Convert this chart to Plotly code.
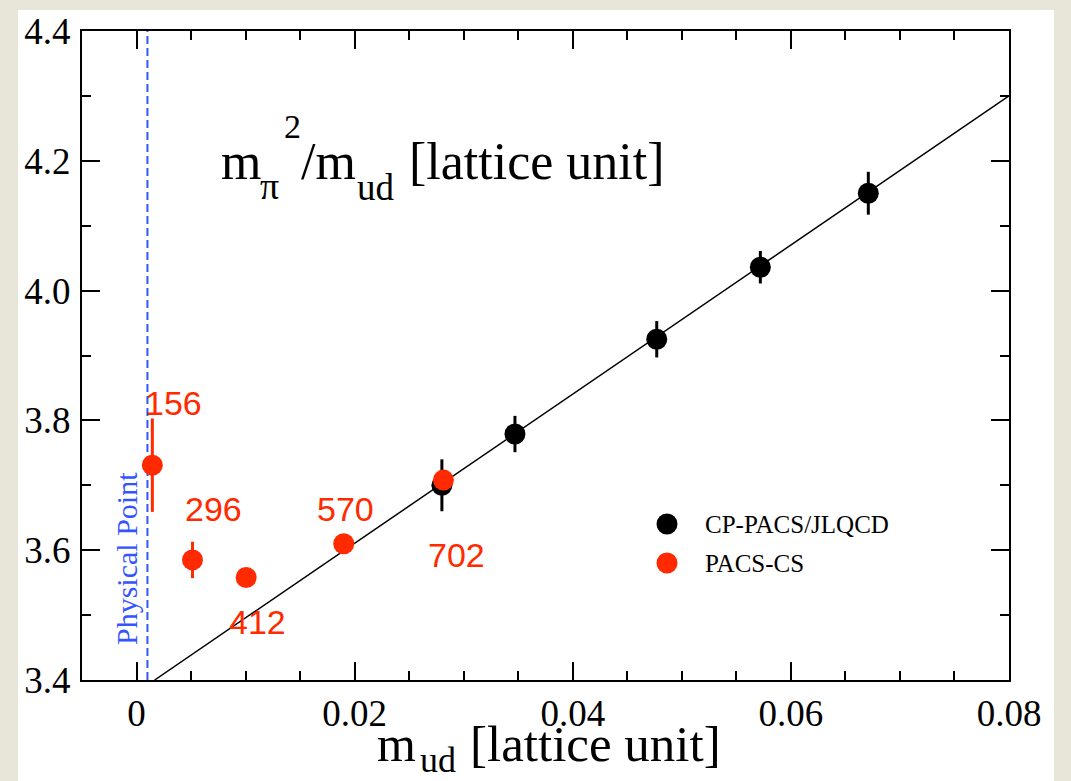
import plotly.graph_objects as go

# ---- data ----
cp_x = [0.0280, 0.0347, 0.0477, 0.0572, 0.0671]
cp_y = [3.700, 3.779, 3.925, 4.036, 4.150]
cp_err = [0.040, 0.028, 0.028, 0.025, 0.033]

pacs_x = [0.00145, 0.00513, 0.01005, 0.0190, 0.02814]
pacs_y = [3.731, 3.585, 3.558, 3.610, 3.708]
pacs_err = [0.072, 0.028, 0.010, 0.010, 0.010]
pacs_labels = ["156", "296", "412", "570", "702"]

fit_x = [0.00166, 0.08]
fit_y = [3.40, 4.30]

phys_x = [0.001, 0.001]
phys_y = [3.40, 4.40]

x_ticks = [0, 0.02, 0.04, 0.06, 0.08]
x_ticktext = ["0", "0.02", "0.04", "0.06", "0.08"]
y_ticks = [3.4, 3.6, 3.8, 4.0, 4.2, 4.4]
y_ticktext = ["3.4", "3.6", "3.8", "4.0", "4.2", "4.4"]

# label offsets in pixels (style, not data)
label_dx = [21, 21, 11, 2, 13]
label_dy = [62, 51, -45, 35, -75]

RED = "#ff2a00"
BLUE = "#3355ff"
SERIF = "Liberation Serif, Times New Roman, serif"
SANS = "Liberation Sans, Arial, sans-serif"

W, H = 1071, 781
L, R, T, B = 82, 62, 31, 101
PW, PH = W - L - R, H - T - B


def px(xp):
    return (xp - L) / PW


def py(yp):
    return (H - B - yp) / PH


annotations = []


def add_piece(x_left, baseline, text, size, color="black", family=SERIF):
    # centre of Liberation Serif text box lies 0.3375 em above the baseline
    annotations.append(dict(x=px(x_left), y=py(baseline - 0.3375 * size),
                            xref="paper", yref="paper", xanchor="left", yanchor="middle",
                            text=text, showarrow=False, borderpad=0,
                            font=dict(family=family, size=size, color=color)))


fig = go.Figure()

fig.add_trace(go.Scatter(x=phys_x, y=phys_y, mode="lines",
                         line=dict(color=BLUE, width=2, dash="8px,4px"),
                         hoverinfo="skip", showlegend=False))
fig.add_trace(go.Scatter(x=fit_x, y=fit_y, mode="lines",
                         line=dict(color="black", width=1.5),
                         hoverinfo="skip", showlegend=False))
fig.add_trace(go.Scatter(x=cp_x, y=cp_y, mode="markers", name="CP-PACS/JLQCD",
                         marker=dict(color="black", size=21),
                         error_y=dict(type="data", array=cp_err, color="black",
                                      thickness=3, width=0),
                         showlegend=False))
fig.add_trace(go.Scatter(x=pacs_x, y=pacs_y, mode="markers", name="PACS-CS",
                         marker=dict(color=RED, size=21),
                         error_y=dict(type="data", array=pacs_err, color=RED,
                                      thickness=3, width=0),
                         showlegend=False))

for xv, yv, t, dx, dy in zip(pacs_x, pacs_y, pacs_labels, label_dx, label_dy):
    annotations.append(dict(x=xv, y=yv, xref="x", yref="y", text=t, showarrow=False,
                            xshift=dx, yshift=dy, xanchor="center", yanchor="middle",
                            font=dict(family=SANS, size=34, color=RED)))

# title inside the plot:  m_pi^2 / m_ud [lattice unit]
add_piece(220, 179, "m", 52)
add_piece(259, 199, "π", 38)
add_piece(283, 138, "2", 34)
add_piece(300, 179, "/m", 52)
add_piece(356, 200, "ud", 37)
add_piece(408, 179, "[lattice unit]", 52)

# x-axis title:  m_ud [lattice unit]
add_piece(376, 761, "m", 50)
add_piece(419, 772, "ud", 36)
add_piece(469, 761, "[lattice unit]", 51)

# physical point
annotations.append(dict(x=px(126), y=py(559), xref="paper", yref="paper", textangle=-90,
                        text="Physical Point", showarrow=False,
                        xanchor="center", yanchor="middle",
                        font=dict(family=SERIF, size=30, color=BLUE)))

# legend
leg_names = ["CP-PACS/JLQCD", "PACS-CS"]
leg_colors = ["black", RED]
leg_y = [524, 563]
shapes = [dict(type="rect", xref="paper", yref="paper",
               x0=px(18), x1=px(1054), y0=py(781), y1=py(10),
               fillcolor="white", line=dict(width=0), layer="below")]
for n, c, yy in zip(leg_names, leg_colors, leg_y):
    shapes.append(dict(type="circle", xref="paper", yref="paper",
                       xsizemode="pixel", ysizemode="pixel",
                       xanchor=px(667), yanchor=py(yy),
                       x0=-10.5, x1=10.5, y0=-10.5, y1=10.5,
                       fillcolor=c, line=dict(width=0)))
    annotations.append(dict(x=px(703), y=py(yy), xref="paper", yref="paper",
                            xanchor="left", yanchor="middle", text=n, showarrow=False,
                            font=dict(family=SERIF, size=25, color="black")))

axis_common = dict(showgrid=False, zeroline=False, showline=True, linecolor="black",
                   linewidth=2, mirror="allticks", ticks="inside", ticklen=18,
                   tickwidth=1.5, tickcolor="black",
                   tickfont=dict(family=SERIF, size=37, color="black"))

fig.update_layout(
    width=W, height=H,
    margin=dict(l=L, r=R, t=T, b=B),
    paper_bgcolor="#e8e6d9",
    plot_bgcolor="white",
    showlegend=False,
    annotations=annotations,
    shapes=shapes,
    xaxis=dict(range=[-0.005, 0.08], tickmode="array", tickvals=x_ticks, ticktext=x_ticktext,
               minor=dict(tick0=0, dtick=0.005, ticks="inside", ticklen=9, tickwidth=1.5,
                          tickcolor="black"),
               **axis_common),
    yaxis=dict(range=[3.4, 4.4], tickmode="array", tickvals=y_ticks, ticktext=y_ticktext,
               minor=dict(tick0=3.4, dtick=0.1, ticks="inside", ticklen=9, tickwidth=1.5,
                          tickcolor="black"),
               ticklabelstandoff=2,
               **axis_common),
)

fig.write_html("out.html")
